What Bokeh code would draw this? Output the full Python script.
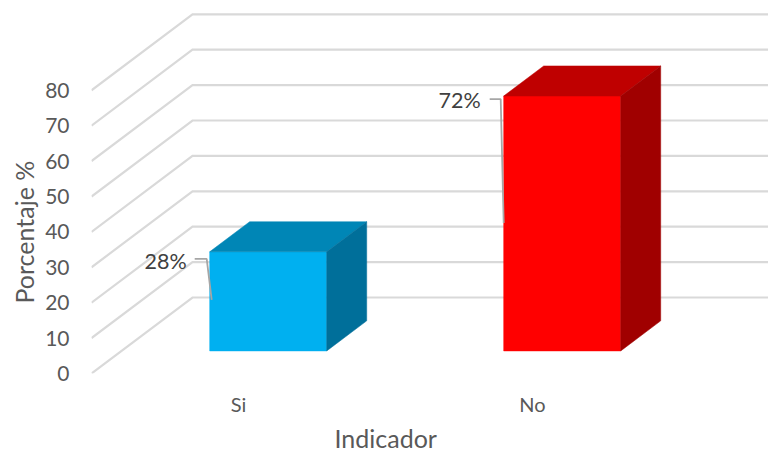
from bokeh.embed import file_html
from bokeh.models import FixedTicker, LinearAxis, Range1d, Title
from bokeh.plotting import figure
from bokeh.resources import INLINE

categories = ["Si", "No"]
percentages = [28, 72]
value_ticks = [0, 10, 20, 30, 40, 50, 60, 70, 80]
front_colors = ["#00B0F0", "#FF0000"]
top_colors = ["#0086B6", "#BF0000"]
side_colors = ["#006F9A", "#A00000"]

# Pixel scale of the category and value units
PX_PER_CATEGORY = 294
PX_PER_VALUE = 3.54
LEFT, BOTTOM = 91, 81
WIDTH, HEIGHT = 768, 454
FRAME_H = HEIGHT - BOTTOM

# Oblique projection: one full depth step shifts a point right and up
DEPTH_X = 101 / PX_PER_CATEGORY
DEPTH_Y = 76 / PX_PER_VALUE
BAR_WIDTH = 0.398
BAR_NEAR = 0.297
BAR_FAR = 0.693

# Leader line offsets from a bar's top-left front corner, in pixels:
# label end x, elbow x, elbow drop, tip x, tip drop
LEADERS = [(-15, -3, 7, 2, 48), (-14, -3, 3, 0, 127)]
LABEL_DROP = [9, 4]


def project(cat, val, depth):
    return cat + depth * DEPTH_X, val + depth * DEPTH_Y


p = figure(
    width=WIDTH, height=HEIGHT, output_backend="svg", toolbar_location=None,
    x_range=Range1d(0, (WIDTH - LEFT) / PX_PER_CATEGORY),
    y_range=Range1d(0, FRAME_H / PX_PER_VALUE),
    min_border_left=LEFT, min_border_right=0, min_border_top=0, min_border_bottom=BOTTOM,
    x_axis_type=None, y_axis_type=None,
    background_fill_color="white", border_fill_color="white",
)
p.outline_line_color = None
p.grid.visible = False

# Side wall diagonals and back wall horizontals
x_end = p.x_range.end
for v in value_ticks:
    x0, y0 = project(0, v, 0)
    x1, y1 = project(0, v, 1)
    p.line([x0, x1, x_end], [y0, y1, y1], line_color="#D9D9D9", line_width=2.2, line_join="miter")

# Each bar is a front face, a top face and a side face
px, py = 1 / PX_PER_CATEGORY, 1 / PX_PER_VALUE
for i, val in enumerate(percentages):
    left = i + 0.5 - 0.2
    right = left + BAR_WIDTH
    corners = {
        "fl0": project(left, 0, BAR_NEAR), "fr0": project(right, 0, BAR_NEAR),
        "fl1": project(left, val, BAR_NEAR), "fr1": project(right, val, BAR_NEAR),
        "bl1": project(left, val, BAR_FAR), "br1": project(right, val, BAR_FAR),
        "br0": project(right, 0, BAR_FAR),
    }
    faces = [
        (["fl0", "fr0", "fr1", "fl1"], front_colors[i]),
        (["fl1", "fr1", "br1", "bl1"], top_colors[i]),
        (["fr0", "br0", "br1", "fr1"], side_colors[i]),
    ]
    for names, color in faces:
        p.patch([corners[n][0] for n in names], [corners[n][1] for n in names],
                fill_color=color, line_color=color, line_width=0.5)

    # Leader line from the value label to the bar's front face
    lx, ly = corners["fl1"]
    start, elbow, drop, tip, tip_drop = LEADERS[i]
    p.line([lx + start * px, lx + elbow * px, lx + tip * px],
           [ly - drop * py, ly - drop * py, ly - tip_drop * py],
           line_color="#A6A6A6", line_width=1.8)

    p.text([lx - 23 * px], [ly - LABEL_DROP[i] * py], text=[f"{val}%"],
           text_align="right", text_baseline="middle",
           text_color="#404040", text_font={"value": "Lato"}, text_font_size="21.5px")

y_axis = LinearAxis(
    ticker=FixedTicker(ticks=value_ticks),
    axis_line_color=None, major_tick_line_color=None, minor_tick_line_color=None,
    major_label_text_color="#595959", major_label_text_font="Lato",
    major_label_text_font_size="21px", major_label_standoff=16,
)
p.add_layout(y_axis, "left")

x_axis = LinearAxis(
    ticker=FixedTicker(ticks=[0.5, 1.5]),
    major_label_overrides={0.5: categories[0], 1.5: categories[1]},
    axis_line_color=None, major_tick_line_color=None, minor_tick_line_color=None,
    major_label_text_color="#595959", major_label_text_font="Lato",
    major_label_text_font_size="20px", major_label_standoff=12,
)
p.add_layout(x_axis, "below")

# Axis titles sit in the side panels, offset along the frame edge
p.add_layout(Title(text="Indicador", align="left", offset=243, standoff=4, text_color="#595959",
                   text_font="Lato", text_font_style="normal", text_font_size="25px"), "below")
p.add_layout(Title(text="Porcentaje %", align="left", offset=70, standoff=8, text_color="#595959",
                   text_font="Lato", text_font_style="normal", text_font_size="25px"), "left")

open("out.html", "w").write(file_html(p, INLINE))
